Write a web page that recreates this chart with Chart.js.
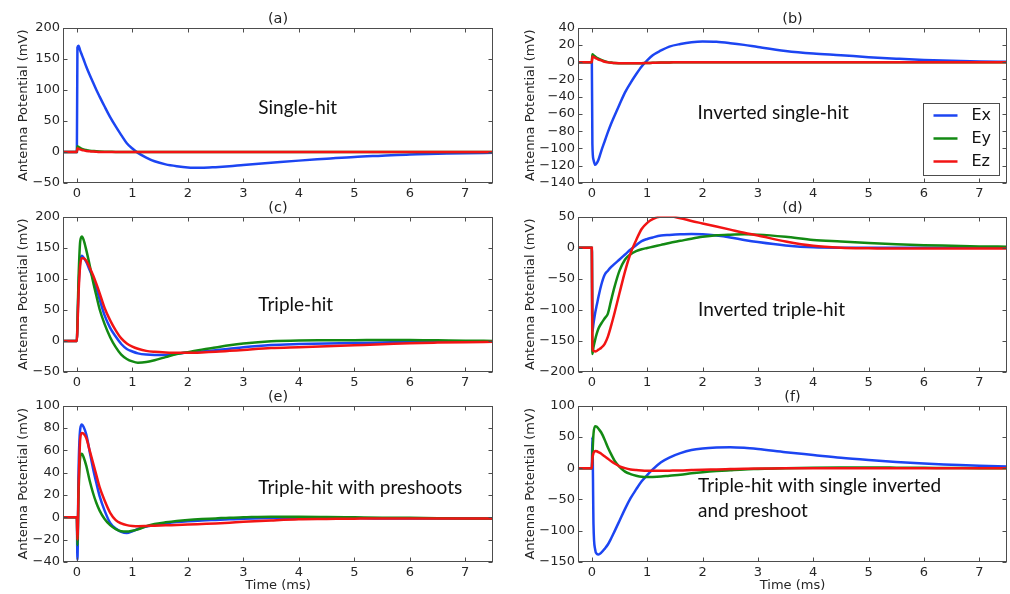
<!DOCTYPE html>
<html>
<head>
<meta charset="utf-8">
<script src="https://cdn.jsdelivr.net/npm/chart.js@4.4.0/dist/chart.umd.min.js"></script>
<style>
  body { margin: 0; background: #fff; width: 1010px; height: 594px; position: relative; overflow: hidden; }
  canvas { position: absolute; }
</style>
</head>
<body>
<canvas id="pa" width="493" height="203" style="left:0px;top:0px"></canvas>
<canvas id="pb" width="502" height="203" style="left:505px;top:0px"></canvas>
<canvas id="pc" width="493" height="203" style="left:0px;top:189px"></canvas>
<canvas id="pd" width="502" height="203" style="left:505px;top:189px"></canvas>
<canvas id="pe" width="493" height="216" style="left:0px;top:378px"></canvas>
<canvas id="pf" width="502" height="216" style="left:505px;top:378px"></canvas>
<script>
// time axis (ms), shared by every series
const timeMs = [-0.25, 0, 0.01, 0.03, 0.06, 0.09, 0.12, 0.17, 0.23, 0.29, 0.35, 0.41, 0.5, 0.6, 0.7, 0.8, 0.9, 1.0, 1.1, 1.25, 1.4, 1.6, 1.8, 2.0, 2.25, 2.5, 2.75, 3.0, 3.5, 4.0, 4.5, 5.0, 5.5, 6.0, 6.5, 7.0, 7.5];

// (a) single-hit
const exA = [0, 0, 168, 171, 163, 156, 149, 137, 124, 112, 100, 89, 73, 56, 41, 27, 14, 5.5, -1.5, -9, -15, -20, -23, -25, -25.5, -24.5, -23, -21, -17.5, -14, -11, -8, -6, -4, -3, -2, -1.5];
const eyA = [0, 0, 9, 8, 6.5, 5, 4, 3, 2, 1.5, 1, 0.7, 0.4, 0.2, 0, 0, 0, 0, 0, 0, 0, 0, 0, 0, 0, 0, 0, 0, 0, 0, 0, 0, 0, 0, 0, 0, 0];
const ezA = [0, 0, 6, 5, 4, 3, 2.5, 1.5, 1, 0.5, 0.2, 0, -0.3, -0.3, -0.2, -0.1, 0, 0, 0, 0, 0, 0, 0, 0, 0, 0, 0, 0, 0, 0, 0, 0, 0, 0, 0, 0, 0];
// (b) inverted single-hit
const exB = [0, 0, -95, -113, -119, -117, -113, -103, -92, -81, -71, -62, -49, -35, -24, -14, -5, 2, 8, 13.5, 18, 21, 23, 23.8, 23.5, 22, 20, 17.5, 13, 10, 8, 5.7, 4, 2.5, 1.5, 0.8, 0.5];
const eyB = [0, 0, 9, 8, 6.5, 5, 4, 2.5, 1, 0, -0.5, -1, -1.2, -1.3, -1.3, -1.3, -1.2, -1, -0.8, -0.5, -0.3, 0, 0, 0, 0, 0, 0, 0, 0, 0, 0, 0, 0, 0, 0, 0, 0];
const ezB = [0, 0, 6.5, 6, 5, 4, 3, 2, 0.5, -0.3, -0.8, -1, -1.2, -1.3, -1.3, -1.3, -1.2, -1, -0.8, -0.5, -0.3, 0, 0, 0, 0, 0, 0, 0, 0, 0, 0, 0, 0, 0, 0, 0, 0];
// (c) triple-hit
const exC = [0, 0, 25, 85, 128, 137, 134, 127, 114, 102, 85, 67, 41, 21, 7, -5, -13, -17, -20, -22, -22.6, -22.5, -20.5, -18.5, -17, -15, -12.5, -10, -6.5, -5, -4, -3.5, -2.5, -1.5, -1, -1, -1];
const eyC = [0, 0, 30, 100, 160, 168, 163, 146, 122, 96, 73, 51, 27, 6, -10, -22, -29, -33, -35, -34, -31, -26, -21, -18, -14, -10.5, -7, -4.2, -0.5, 0.8, 1, 1.2, 1.5, 1.6, 1, 0.3, 0];
const ezC = [0, 0, 20, 75, 122, 133, 133, 129, 118, 106, 92, 77, 53, 33, 17, 4, -4, -9, -12.5, -16, -17.5, -18.5, -19, -19, -18.5, -17.5, -16, -14.5, -11.5, -10, -8.5, -7, -5.5, -3.7, -2.7, -2, -1.5];
// (d) inverted triple-hit
const exD = [0, 0, -135, -122, -105, -92, -79, -60, -44, -37, -31, -26, -19, -11, -3, 4, 10.5, 14, 16.5, 19.5, 20.5, 21.5, 22, 21.5, 19.5, 16.5, 12.5, 9, 3.5, 0.5, 0, 0, 0, 0, 0, 0, 0];
const eyD = [0, 0, -171, -160, -148, -138, -130, -122, -114, -106, -84, -63, -37, -19, -10.5, -5.5, -2.5, -0.5, 1.5, 4.5, 7.5, 11, 14.5, 17.5, 20, 21, 21.5, 21, 17.5, 12.5, 10, 7.5, 5.5, 4, 3, 2, 1.6];
const ezD = [0, 0, -160, -166, -167, -166, -164, -161, -155, -143, -125, -105, -73, -38, -9, 12, 30, 40, 46, 50, 50.5, 47.5, 43, 39, 34, 29, 24, 19.5, 10, 3, 0, -1, -1.5, -1.5, -1.5, -1.5, -1.5];
// (e) triple-hit with preshoots
const exE = [0, 0, -38, 40, 79, 83, 81, 74, 59, 44, 31, 19, 6, -5, -10, -13, -14, -12.5, -10.5, -8.3, -7, -5.5, -4.3, -3.5, -2.8, -2.3, -1.8, -1.3, -0.7, -0.5, -0.5, -0.7, -1, -1, -1, -1, -1];
const eyE = [0, 0, -25, 20, 54, 57, 54, 46, 33, 22, 13, 6, -1.5, -7, -10.5, -12.5, -12.8, -12, -10.8, -8, -6, -4.5, -3.3, -2.4, -1.6, -1, -0.3, 0, 0.5, 0.5, 0.3, 0, -0.3, -0.5, -0.8, -1, -1];
const ezE = [0, 0, -20, 25, 70, 75.5, 75, 71, 60, 49, 38, 27, 15, 4, -2.5, -5.5, -7, -7.7, -8, -7.8, -7.5, -7.2, -6.8, -6.5, -6, -5.5, -4.8, -4, -2.8, -1.8, -1.5, -1.2, -1, -1, -1, -1, -1];
// (f) triple-hit with single inverted and preshoot
const exF = [0, 0, 50, -90, -130, -137, -138, -135, -129, -122, -112, -101, -84, -65, -48, -34, -21, -11, -2, 9.5, 17, 24, 29, 31.5, 33, 33.5, 32.5, 30.5, 25.5, 21, 16.5, 13, 10, 7.4, 5.5, 3.7, 2.7];
const eyF = [0, 0, 20, 55, 67, 66, 63, 57, 46, 33, 22, 12, 2, -5.5, -9.5, -12, -13.7, -14, -14, -13.5, -12, -10.5, -8.3, -6.5, -4.7, -3.3, -2, -1.3, 0, 0.8, 1, 1, 0.8, 0.5, 0.3, 0, 0];
const ezF = [0, 0, 15, 24, 27.5, 27, 25.5, 23, 19, 15, 11, 7.5, 3, 0, -2, -3, -3.6, -4, -4.2, -4.2, -4, -3.7, -3, -2.4, -2, -1.5, -1, -0.6, 0, 0, 0, 0, 0, 0, 0, 0, 0];

const seriesNames = ['Ex', 'Ey', 'Ez'];
const panelTitles = ['(a)', '(b)', '(c)', '(d)', '(e)', '(f)'];
const yTicks = [[-50, 200, 50], [-140, 40, 20], [-50, 200, 50], [-200, 50, 50], [-40, 100, 20], [-150, 100, 50]];
const notes = [['Single-hit'], ['Inverted single-hit'], ['Triple-hit'], ['Inverted triple-hit'],
  ['Triple-hit with preshoots'], ['Triple-hit with single inverted', 'and preshoot']];

// note anchor in data units (time, mV)
const noteAt = [[3.27, 60.6], [1.91, -65.3], [3.27, 48.3], [1.92, -110.6], [3.27, 20.8], [1.92, -38.9]];
const colors = ['#1c45f2', '#138a13', '#f21414'];

Chart.defaults.font.family = "'DejaVu Sans', sans-serif";
Chart.defaults.color = '#262626';

const frame = {
  id: 'frame',
  afterDatasetsDraw(chart, args, o) {
    const { ctx, chartArea: a, scales: { x, y } } = chart;
    const l = Math.round(a.left) + 0.5, r = Math.round(a.right) - 0.5;
    const t = Math.round(a.top) + 0.5, b = Math.round(a.bottom) - 0.5;
    ctx.save();
    ctx.strokeStyle = '#4d4d4d';
    ctx.lineWidth = 1;
    ctx.beginPath();
    x.ticks.forEach(tk => {
      const px = Math.round(x.getPixelForValue(tk.value)) + 0.5;
      ctx.moveTo(px, b); ctx.lineTo(px, b - 4);
      ctx.moveTo(px, t); ctx.lineTo(px, t + 4);
    });
    y.ticks.forEach(tk => {
      const py = Math.round(y.getPixelForValue(tk.value)) + 0.5;
      ctx.moveTo(l, py); ctx.lineTo(l + 4, py);
      ctx.moveTo(r, py); ctx.lineTo(r - 4, py);
    });
    ctx.stroke();
    ctx.strokeRect(l, t, r - l, b - t);

    ctx.fillStyle = '#111';
    ctx.font = '19px Lato';
    ctx.textBaseline = 'alphabetic';
    o.lines.forEach((s, i) => ctx.fillText(s, x.getPixelForValue(o.at[0]), y.getPixelForValue(o.at[1]) + i * 25));

    if (o.legend) {
      const bw = 76, bh = 72;
      const bx = Math.round(a.right - 8 - bw) + 0.5, by = Math.round(a.bottom - 8 - bh) + 0.5;
      ctx.fillStyle = '#fff';
      ctx.fillRect(bx, by, bw, bh);
      ctx.strokeStyle = '#4d4d4d';
      ctx.strokeRect(bx, by, bw, bh);
      ctx.font = '16px "DejaVu Sans"';
      ctx.textBaseline = 'middle';
      chart.data.datasets.forEach((d, i) => {
        const ry = by + 12 + i * 23;
        ctx.strokeStyle = d.borderColor;
        ctx.lineWidth = 2.5;
        ctx.beginPath(); ctx.moveTo(bx + 10, ry); ctx.lineTo(bx + 34, ry); ctx.stroke();
        ctx.fillStyle = '#111';
        ctx.fillText(d.label, bx + 48, ry);
      });
    }
    ctx.restore();
  }
};

const panelSeries = [[exA, eyA, ezA], [exB, eyB, ezB], [exC, eyC, ezC], [exD, eyD, ezD], [exE, eyE, ezE], [exF, eyF, ezF]];
const ids = ['pa', 'pb', 'pc', 'pd', 'pe', 'pf'];

ids.forEach((id, p) => {
  const rightCol = p % 2 === 1;
  const bottomRow = p >= 4;
  const [ymin, ymax, ystep] = yTicks[p];
  new Chart(document.getElementById(id), {
    type: 'line',
    data: {
      datasets: panelSeries[p].map((vals, i) => ({
        label: seriesNames[i],
        data: timeMs.map((t, k) => ({ x: t, y: vals[k] })),
        borderColor: colors[i],
        borderWidth: 2.5,
        pointRadius: 0,
        fill: false,
        cubicInterpolationMode: 'monotone',
        order: 3 - i
      }))
    },
    plugins: [frame],
    options: {
      responsive: false,
      animation: false,
      events: [],
      layout: { padding: { top: 10.2, right: 0, bottom: 0, left: 0 } },
      plugins: {
        legend: { display: false },
        tooltip: { enabled: false },
        title: {
          display: true, text: panelTitles[p], fullSize: false,
          color: '#222', font: { size: 14.5, weight: 'normal', lineHeight: 1.2 },
          padding: 0
        },
        frame: { lines: notes[p], at: noteAt[p], legend: p === 1 }
      },
      scales: {
        x: {
          type: 'linear', min: -0.25, max: 7.5,
          grid: { display: false, drawTicks: false }, border: { display: false },
          ticks: { stepSize: 1, includeBounds: false, padding: 3, font: { size: 13 }, maxRotation: 0 },
          title: { display: bottomRow, text: 'Time (ms)', font: { size: 13 }, padding: { top: 0, bottom: 0.5 } },
          afterFit: s => { s.height = bottomRow ? 32 : 20; }
        },
        y: {
          min: ymin, max: ymax,
          grid: { display: false, drawTicks: false }, border: { display: false },
          ticks: {
            stepSize: ystep, autoSkip: false, padding: 3, font: { size: 13 },
            callback: v => String(v).replace('-', '\u2212')
          },
          title: {
            display: true, text: 'Antenna Potential (mV)', font: { size: 13 },
            padding: { top: rightCol ? 18 : 15.5, bottom: 0 }
          },
          afterFit: s => { s.width = rightCol ? 73 : 63; }
        }
      }
    }
  });
});
</script>
</body>
</html>
